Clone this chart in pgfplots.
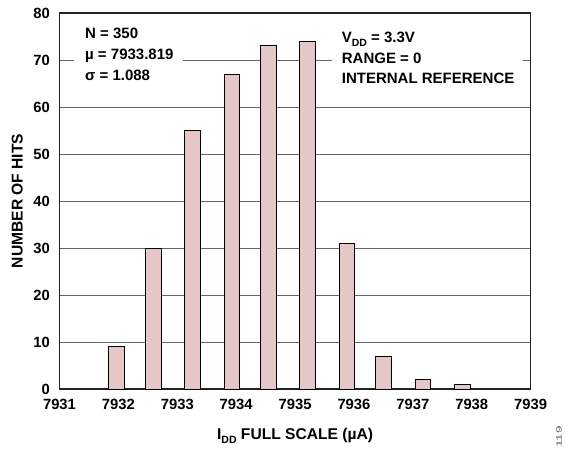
\documentclass[border=0pt]{standalone}
\usepackage{pgfplots}
\pgfplotsset{compat=1.18}
\usepackage{fontspec}
\setmainfont{Liberation Sans}

\definecolor{barpink}{RGB}{229,199,199}
\definecolor{gridgray}{RGB}{100,100,100}
\definecolor{framegray}{RGB}{35,35,35}

\newcommand{\tickfont}{\fontsize{14.8}{17}\selectfont\bfseries}
\newcommand{\notefont}{\fontsize{15}{18}\selectfont\bfseries}
\newcommand{\labelfont}{\fontsize{15.6}{18}\selectfont\bfseries}
\newcommand{\subDD}{\raisebox{-3.3pt}{\fontsize{10.5}{12}\selectfont DD}}

\begin{document}
\begin{tikzpicture}
\path[use as bounding box] (-59.5pt,-59pt) rectangle (506.5pt,389pt);
\begin{axis}[
  at={(0pt,0pt)}, anchor=south west,
  scale only axis,
  width=471.2pt, height=376pt,
  xmin=7931, xmax=7939, ymin=0, ymax=80,
  enlargelimits=false,
  clip=false,
  xtick={7931,7932,...,7939},
  ytick={0,10,...,80},
  scaled x ticks=false,
  /pgf/number format/1000 sep={},
  /pgf/number format/assume math mode=true,
  major tick length=0pt,
  ymajorgrids,
  grid style={gridgray, line width=0.9pt},
  axis line style={framegray, line width=1.3pt},
  ticklabel style={font=\tickfont, text=black},
  yticklabel style={anchor=east, inner sep=0pt, xshift=-9.5pt},
  xticklabel style={anchor=north, inner sep=0pt, yshift=-10pt},
  xlabel={I\subDD{} FULL SCALE (µA)},
  ylabel={NUMBER OF HITS},
  every axis x label/.style={at={(axis description cs:0.5,-0.1356)}, anchor=base, font=\labelfont},
  every axis y label/.style={at={(axis description cs:-0.0781,0.5)}, rotate=90, anchor=base, font=\labelfont},
]
% histogram of measured full-scale current
\addplot[ybar, bar width=15.5pt, fill=barpink, draw=black, line width=1pt]
  coordinates {
    (7931.97,9) (7932.60,30) (7933.26,55) (7933.93,67) (7934.55,73)
    (7935.21,74) (7935.88,31) (7936.50,7) (7937.17,2) (7937.84,1)
  };

% statistics and test conditions
\fill[white] (axis cs:7931.246,64.5) rectangle (axis cs:7933.102,77.7);
\fill[white] (axis cs:7935.621,64.5) rectangle (axis cs:7938.874,77.7);
\node[anchor=base west, inner sep=0pt, font=\notefont] at (axis cs:7931.433,74.62) {N = 350};
\node[anchor=base west, inner sep=0pt, font=\notefont] at (axis cs:7931.433,70.15) {µ = 7933.819};
\node[anchor=base west, inner sep=0pt, font=\notefont] at (axis cs:7931.433,65.60) {σ = 1.088};
\node[anchor=base west, inner sep=0pt, font=\notefont] at (axis cs:7935.791,73.68) {V\subDD{} = 3.3V};
\node[anchor=base west, inner sep=0pt, font=\notefont] at (axis cs:7935.791,69.30) {RANGE = 0};
\node[anchor=base west, inner sep=0pt, font=\notefont] at (axis cs:7935.791,65.04) {INTERNAL REFERENCE};

\node[rotate=90, inner sep=0pt, text=gray!70!black] at (axis description cs:1.060,-0.1277)
  {\scalebox{1.8}[1]{\fontsize{7.5}{8}\selectfont 119}};
\end{axis}
\end{tikzpicture}
\end{document}
